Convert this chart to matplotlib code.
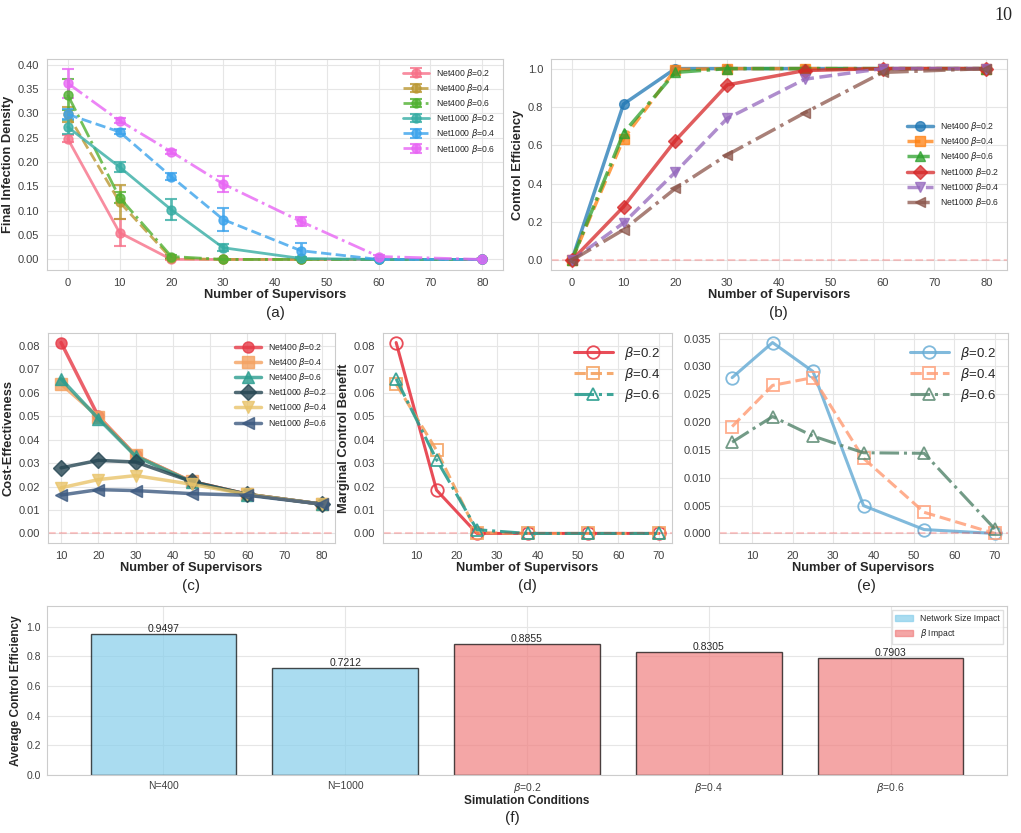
"""Supervisor study: six-panel summary figure."""

import matplotlib
matplotlib.use("Agg")
import matplotlib.pyplot as plt
import seaborn as sns
from matplotlib.patches import Patch
from matplotlib.ticker import MultipleLocator, FormatStrFormatter

sns.set_style("whitegrid")
plt.rcParams["font.family"] = ["Liberation Sans", "DejaVu Sans"]
plt.rcParams["mathtext.fontset"] = "dejavusans"

# ---- data -------------------------------------------------------------
supervisors = [0, 10, 20, 30, 45, 60, 80]
series_labels = [r"Net400 $\beta$=0.2", r"Net400 $\beta$=0.4", r"Net400 $\beta$=0.6",
                 r"Net1000 $\beta$=0.2", r"Net1000 $\beta$=0.4", r"Net1000 $\beta$=0.6"]

density = [
    [0.248, 0.055, 0.000, 0.000, 0.000, 0.000, 0.000],
    [0.298, 0.118, 0.002, 0.000, 0.000, 0.000, 0.000],
    [0.338, 0.127, 0.006, 0.000, 0.000, 0.000, 0.000],
    [0.272, 0.190, 0.102, 0.024, 0.002, 0.000, 0.000],
    [0.298, 0.262, 0.170, 0.082, 0.018, 0.000, 0.000],
    [0.362, 0.285, 0.221, 0.155, 0.078, 0.006, 0.000],
]
density_err = [
    [0.007, 0.028, 0.002, 0.000, 0.000, 0.000, 0.000],
    [0.015, 0.034, 0.002, 0.000, 0.000, 0.000, 0.000],
    [0.032, 0.012, 0.003, 0.000, 0.000, 0.000, 0.000],
    [0.015, 0.010, 0.022, 0.007, 0.002, 0.000, 0.000],
    [0.010, 0.005, 0.007, 0.023, 0.015, 0.000, 0.000],
    [0.030, 0.005, 0.004, 0.017, 0.010, 0.004, 0.000],
]

efficiency = [
    [0.0, 0.815, 1.000, 1.000, 1.000, 1.000, 1.000],
    [0.0, 0.635, 0.995, 1.000, 1.000, 1.000, 1.000],
    [0.0, 0.665, 0.980, 1.000, 1.000, 1.000, 1.000],
    [0.0, 0.280, 0.625, 0.915, 0.990, 1.000, 1.000],
    [0.0, 0.195, 0.460, 0.740, 0.945, 1.000, 1.000],
    [0.0, 0.160, 0.375, 0.550, 0.770, 0.980, 1.000],
]

cost_x = [10, 20, 30, 45, 60, 80]
cost_eff = [
    [0.0815, 0.0500, 0.0333, 0.0222, 0.0167, 0.0125],
    [0.0638, 0.0498, 0.0333, 0.0222, 0.0167, 0.0125],
    [0.0660, 0.0490, 0.0330, 0.0220, 0.0166, 0.0125],
    [0.0280, 0.0312, 0.0305, 0.0222, 0.0167, 0.0125],
    [0.0195, 0.0230, 0.0247, 0.0210, 0.0167, 0.0125],
    [0.0164, 0.0187, 0.0183, 0.0170, 0.0163, 0.0125],
]

marginal_x = [5, 15, 25, 37.5, 52.5, 70]
beta_labels = [r"$\beta$=0.2", r"$\beta$=0.4", r"$\beta$=0.6"]
marginal_400 = [
    [0.0815, 0.0185, 0.0000, 0.0000, 0.0000, 0.0000],
    [0.0637, 0.0355, 0.0003, 0.0000, 0.0000, 0.0000],
    [0.0660, 0.0315, 0.0016, 0.0000, 0.0000, 0.0000],
]
marginal_1000 = [
    [0.0280, 0.0343, 0.0291, 0.0050, 0.0007, 0.0000],
    [0.0192, 0.0266, 0.0280, 0.0135, 0.0038, 0.0000],
    [0.0164, 0.0210, 0.0175, 0.0145, 0.0144, 0.0008],
]

conditions = ["N=400", "N=1000", r"$\beta$=0.2", r"$\beta$=0.4", r"$\beta$=0.6"]
avg_eff = [0.9497, 0.7212, 0.8855, 0.8305, 0.7903]

# ---- styling ----------------------------------------------------------
husl = sns.color_palette("husl", 6)
tab = ["tab:blue", "tab:orange", "tab:green", "tab:red", "tab:purple", "tab:brown"]
cost_colors = ["#E63946", "#F4A261", "#2A9D8F", "#264653", "#E9C46A", "#3D5A80"]
styles = ["-", "--", "-.", "-", "--", "-."]
b_markers = ["o", "s", "^", "D", "v", "<"]
d_colors = ["#E63946", "#F4A261", "#2A9D8F"]
e_colors = ["#6BAED6", "#FFA07A", "#5B8A72"]
m_styles = ["-", "--", "-."]
m_markers = ["o", "s", "^"]

W, H = 1021, 833
fig = plt.figure(figsize=(W / 100, H / 100), dpi=100)


def px_axes(x0, y0, x1, y1):
    return fig.add_axes([x0 / W, 1 - y1 / H, (x1 - x0) / W, (y1 - y0) / H])


def style(ax, ylabel=None, xlabel="Number of Supervisors", ystep=None, yfmt=None,
          size=9.3):
    ax.tick_params(labelsize=8, colors="0.25", pad=2)
    for s in ax.spines.values():
        s.set_color("0.8")
    ax.grid(color="0.9", linewidth=0.8)
    if ystep:
        ax.yaxis.set_major_locator(MultipleLocator(ystep))
        ax.yaxis.set_major_formatter(FormatStrFormatter(yfmt))
    if xlabel:
        ax.set_xlabel(xlabel, fontsize=size, fontweight="bold", labelpad=1)
    if ylabel:
        ax.set_ylabel(ylabel, fontsize=size, fontweight="bold", labelpad=3)


small_leg = dict(fontsize=6.2, frameon=False, handlelength=3, labelspacing=0.25)
big_leg = dict(fontsize=9.5, frameon=False, handlelength=3, labelspacing=0.3)

# (a) final infection density
ax = px_axes(47, 59, 503, 270)
for i in range(6):
    ax.errorbar(supervisors, density[i], yerr=density_err[i], color=husl[i],
                linestyle=styles[i], marker="o", markersize=6.5, linewidth=2,
                capsize=4, capthick=1.5, alpha=0.8, label=series_labels[i])
ax.set_xticks(range(0, 81, 10))
style(ax, "Final Infection Density", ystep=0.05, yfmt="%.2f")
ax.legend(loc="upper right", **small_leg)

# (b) control efficiency
ax = px_axes(551, 59, 1007, 270)
for i in range(6):
    ax.plot(supervisors, efficiency[i], color=tab[i], linestyle=styles[i],
            marker=b_markers[i], markersize=7, linewidth=2.5, alpha=0.75,
            label=series_labels[i])
ax.axhline(0, color="red", linestyle="--", alpha=0.2, linewidth=1.5)
ax.set_xticks(range(0, 81, 10))
style(ax, "Control Efficiency", ystep=0.2, yfmt="%.1f")
ax.legend(loc="center right", **small_leg)

# (c) cost-effectiveness
ax = px_axes(48, 333, 335, 543)
for i in range(6):
    ax.plot(cost_x, cost_eff[i], color=cost_colors[i], marker=b_markers[i],
            markersize=8, linewidth=2.5, alpha=0.8, label=series_labels[i])
ax.axhline(0, color="red", linestyle="--", alpha=0.2, linewidth=1.5)
ax.set_xticks(range(10, 81, 10))
style(ax, "Cost-Effectiveness", ystep=0.01, yfmt="%.2f")
ax.legend(loc="upper right", **small_leg)

# (d) marginal benefit, Net400
ax = px_axes(383, 333, 672, 543)
for i in range(3):
    ax.plot(marginal_x, marginal_400[i], color=d_colors[i], linestyle=m_styles[i],
            marker=m_markers[i], markersize=9, markerfacecolor="none",
            markeredgewidth=1.3, linewidth=2.2, alpha=0.9, label=beta_labels[i])
ax.axhline(0, color="red", linestyle="--", alpha=0.2, linewidth=1.5)
ax.set_xticks(range(10, 71, 10))
style(ax, "Marginal Control Benefit", ystep=0.01, yfmt="%.2f")
ax.legend(loc="upper right", **big_leg)

# (e) marginal benefit, Net1000
ax = px_axes(719, 333, 1008, 543)
for i in range(3):
    ax.plot(marginal_x, marginal_1000[i], color=e_colors[i], linestyle=m_styles[i],
            marker=m_markers[i], markersize=9, markerfacecolor="none",
            markeredgewidth=1.3, linewidth=2.2, alpha=0.85, label=beta_labels[i])
ax.axhline(0, color="red", linestyle="--", alpha=0.2, linewidth=1.5)
ax.set_xticks(range(10, 71, 10))
style(ax, ystep=0.005, yfmt="%.3f")
ax.legend(loc="upper right", **big_leg)

# (f) average control efficiency
ax = px_axes(47, 606, 1007, 775)
bar_colors = ["skyblue"] * 2 + ["lightcoral"] * 3
bars = ax.bar(conditions, avg_eff, color=bar_colors, alpha=0.7,
              edgecolor="black", linewidth=1)
for b, v in zip(bars, avg_eff):
    ax.text(b.get_x() + b.get_width() / 2, v, f"{v:.4f}", ha="center",
            va="bottom", fontsize=7.5)
ax.set_ylim(0, max(avg_eff) * 1.2)
style(ax, "Average Control Efficiency", "Simulation Conditions", size=8.5)
ax.tick_params(labelsize=7.5, pad=1)
ax.xaxis.labelpad = 0
ax.legend(handles=[Patch(color="skyblue", alpha=0.7, label="Network Size Impact"),
                   Patch(color="lightcoral", alpha=0.7, label=r"$\beta$ Impact")],
          fontsize=6.2, loc="upper right", frameon=True, edgecolor="0.85",
          fancybox=False)

# captions and page number
for txt, x, y in [("(a)", 275, 313), ("(b)", 778, 313), ("(c)", 191, 586),
                  ("(d)", 527, 586), ("(e)", 866, 586), ("(f)", 512, 818)]:
    fig.text(x / W, 1 - y / H, txt, ha="center", va="center", fontsize=11)
fig.text(1003 / W, 1 - 16 / H, "10", ha="center", va="center", fontsize=13,
         family="Liberation Serif")

fig.savefig("out.png", dpi=100)
